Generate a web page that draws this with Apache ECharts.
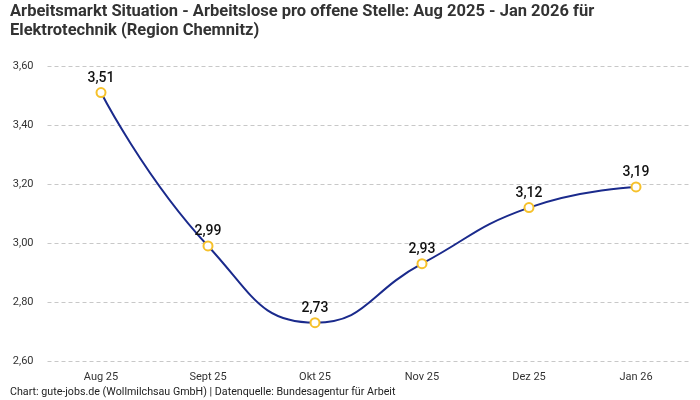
<!DOCTYPE html>
<html>
<head>
<meta charset="utf-8">
<script src="https://cdn.jsdelivr.net/npm/echarts@6/dist/echarts.min.js"></script>
<style>html,body{margin:0;padding:0;background:#fff}#c{width:700px;height:400px}</style>
</head>
<body>
<div id="c"></div>
<script>
const categories = ["Aug 25", "Sept 25", "Okt 25", "Nov 25", "Dez 25", "Jan 26"];
const values = [3.51, 2.99, 2.73, 2.93, 3.12, 3.19];
const yTicks = { min: 2.6, max: 3.6, interval: 0.2 };
const titleText = "Arbeitsmarkt Situation - Arbeitslose pro offene Stelle: Aug 2025 - Jan 2026 für\nElektrotechnik (Region Chemnitz)";
const footerText = "Chart: gute-jobs.de (Wollmilchsau GmbH) | Datenquelle: Bundesagentur für Arbeit";

const fmt = v => v.toFixed(2).replace('.', ',');
const chart = echarts.init(document.getElementById('c'));
chart.setOption({
  animation: false,
  textStyle: { fontFamily: 'Roboto' },
  title: [{
    text: titleText, left: 5, top: -3,
    textStyle: { fontSize: 16.5, fontWeight: 'bold', color: '#333', lineHeight: 19, fontFamily: 'Roboto' }
  }, {
    text: footerText, left: 5, bottom: -3,
    textStyle: { fontSize: 10.7, fontWeight: 'normal', color: '#222', fontFamily: 'Roboto' }
  }],
  grid: { left: 47.5, right: 10.5, top: 66, bottom: 39 },
  xAxis: {
    type: 'category', data: categories, boundaryGap: true,
    axisLine: { show: false }, axisTick: { show: false },
    axisLabel: { color: '#333', fontSize: 11, margin: 11 }
  },
  yAxis: {
    type: 'value', min: yTicks.min, max: yTicks.max, interval: yTicks.interval,
    axisLine: { show: false }, axisTick: { show: false },
    axisLabel: { color: '#333', fontSize: 11, formatter: fmt, margin: 14 },
    splitLine: { lineStyle: { type: [4, 3], color: '#c8c8c8' } }
  },
  series: [{
    type: 'line', data: values, smooth: 0.5,
    lineStyle: { color: '#1a2a8c', width: 2 },
    itemStyle: { color: '#fff', borderColor: '#f6c12b', borderWidth: 2 },
    symbol: 'circle', symbolSize: 9,
    label: { show: true, position: 'top', distance: 2, formatter: p => fmt(p.value), fontSize: 14, fontWeight: 500, color: '#111' }
  }]
});
</script>
</body>
</html>
